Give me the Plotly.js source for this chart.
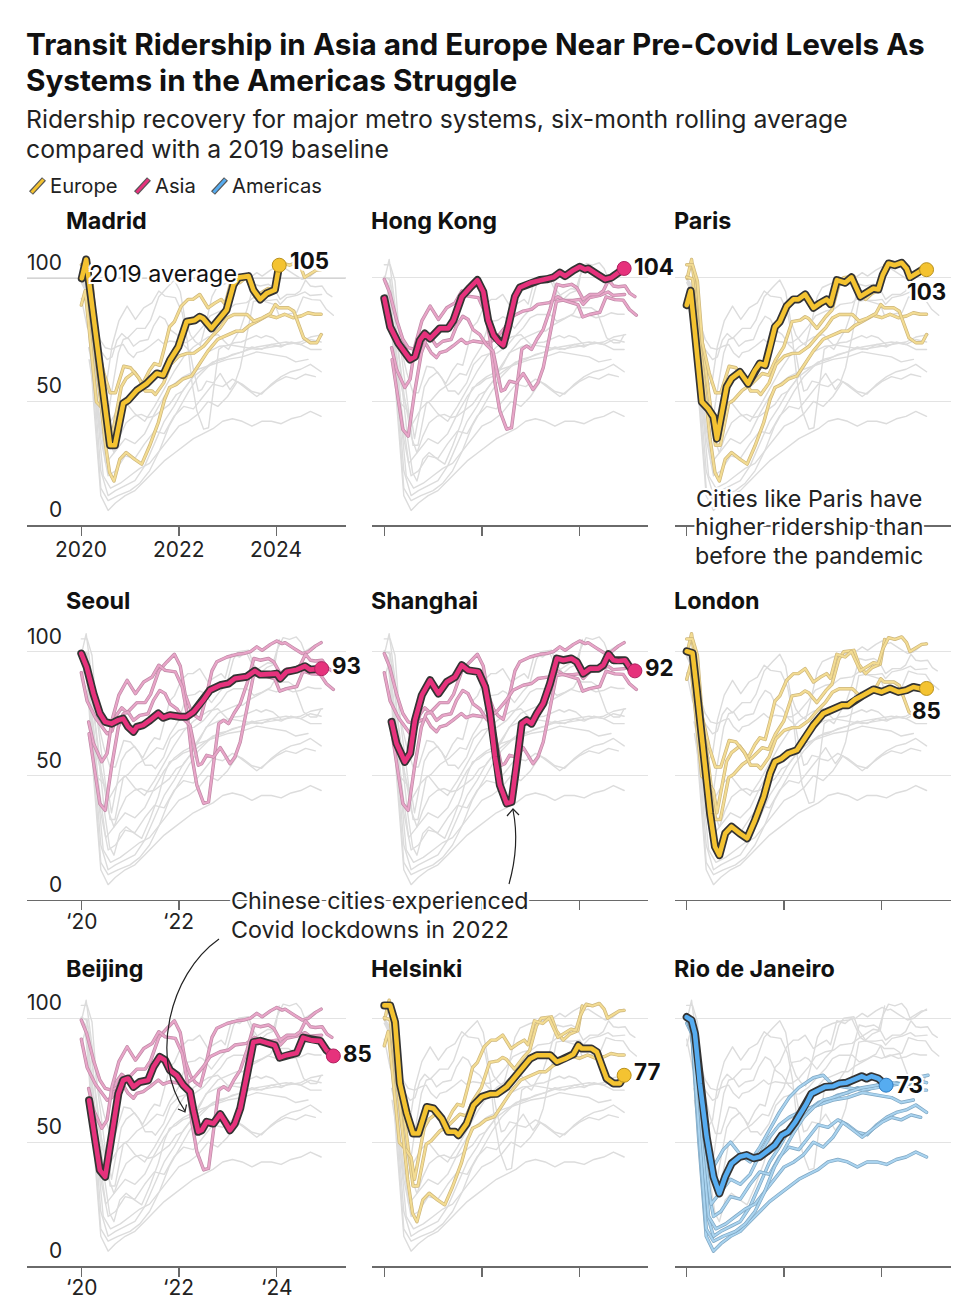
<!DOCTYPE html>
<html><head><meta charset="utf-8">
<script src="https://cdn.plot.ly/plotly-3.0.1.min.js"></script>
<style>html,body{margin:0;padding:0;background:#fff}.scatterlayer path.js-line{stroke-linejoin:round;stroke-linecap:round}</style>
</head><body><div id="chart" style="width:968px;height:1312px"></div>
<script>
// ---------------- DATA (index vs 2019 average = 100; x = decimal year) ----------------
const madridYears = [2020.01,2020.10,2020.59,2020.69,2020.86,2020.96,2021.14,2021.34,2021.55,2021.68,2021.82,2021.99,2022.16,2022.33,2022.43,2022.50,2022.67,2022.85,2022.98,2023.12,2023.22,2023.43,2023.53,2023.67,2023.80,2023.97,2024.06];
const madridValues = [99.7,107.3,32.3,32.3,49.2,50.5,54.5,57.2,61.3,60.6,66.7,72,82.2,82.8,84.2,83.5,79.5,84.2,86.9,97,100,100.6,95,91.2,93.6,95,105];

const hongKongYears = [2020.0,2020.12,2020.29,2020.42,2020.53,2020.63,2020.73,2020.83,2020.94,2021.14,2021.31,2021.42,2021.59,2021.76,2021.91,2022.03,2022.13,2022.24,2022.34,2022.44,2022.54,2022.68,2022.78,2022.99,2023.19,2023.33,2023.47,2023.6,2023.71,2023.88,2024.01,2024.12,2024.18,2024.36,2024.53,2024.66,2024.8,2024.92];
const hongKongValues = [91.6,80.1,73.4,70,66.9,68,74.7,77.4,75.4,79.5,79.5,82.8,92.3,96,99,94.3,82.8,76.8,74.1,72.7,80.1,92.3,96,97.9,99,99.3,100.1,102,100.6,103,104.4,103.3,103.7,101.4,99.3,100,102.3,103.7];

const parisYears = [2020.0,2020.08,2020.17,2020.31,2020.44,2020.55,2020.62,2020.72,2020.82,2020.92,2021.09,2021.26,2021.4,2021.5,2021.61,2021.71,2021.81,2021.91,2022.05,2022.19,2022.29,2022.43,2022.6,2022.73,2022.87,2022.95,2023.08,2023.25,2023.38,2023.56,2023.69,2023.83,2023.93,2024.02,2024.14,2024.27,2024.41,2024.51,2024.58,2024.71,2024.82,2024.92];
const parisValues = [88.9,94.7,77.4,49.8,47.1,43.8,35,45.1,55.9,59.3,61.9,57.2,62.6,65.3,64.6,72,80.1,82.2,88.5,91.2,91.2,93.2,87.8,89.6,91.2,89.3,99,97.9,100.1,92.3,93.9,95.6,95.2,101,105.7,105,106,103.7,100.1,101.7,103,103.2];

const seoulYears = [2020.0,2020.11,2020.25,2020.38,2020.49,2020.62,2020.76,2020.86,2020.96,2021.07,2021.14,2021.27,2021.41,2021.58,2021.68,2021.82,2022.02,2022.16,2022.3,2022.5,2022.64,2022.85,2023.02,2023.15,2023.39,2023.56,2023.67,2023.87,2024.01,2024.08,2024.21,2024.42,2024.59,2024.69,2024.93];
const seoulValues = [99.3,93.9,83.1,75.1,71.7,71,72.4,73,69.7,67.7,69.7,70.4,72.4,75.1,73.4,74.4,73.8,73.8,75.7,80.4,84.5,86.5,87.2,89.2,89.9,92.3,90.8,90.8,91.2,89.2,91.9,92.8,94.2,92.8,93.2];

const shanghaiYears = [2020.15,2020.25,2020.42,2020.53,2020.63,2020.77,2020.94,2021.11,2021.28,2021.45,2021.59,2021.72,2021.93,2022.07,2022.17,2022.27,2022.37,2022.51,2022.61,2022.71,2022.82,2022.92,2023.02,2023.13,2023.26,2023.4,2023.54,2023.67,2023.84,2023.95,2024.08,2024.22,2024.39,2024.49,2024.6,2024.7,2024.8,2024.94,2025.04,2025.14];
const shanghaiValues = [71.7,63,55.6,59,72.4,82.5,88.5,83.1,87.8,89.8,94.6,92.5,91.9,85.8,75.1,57.6,46.2,38.8,39.4,53.6,71,72.4,71,75.1,79.1,87.2,97.3,96.6,97.3,95.9,91.2,93.2,93.2,94.6,99,96.6,96.3,96.6,93.6,92.3];

const londonYears = [2020.0,2020.12,2020.2,2020.34,2020.48,2020.58,2020.67,2020.79,2020.92,2021.09,2021.24,2021.4,2021.58,2021.71,2021.81,2021.95,2022.08,2022.26,2022.39,2022.6,2022.8,2023.01,2023.18,2023.31,2023.45,2023.62,2023.83,2024.0,2024.17,2024.34,2024.51,2024.65,2024.79,2024.92];
const londonValues = [100.2,99.5,85.8,59,34.8,21.3,17.9,26.7,29.4,26.7,24.7,32,41.5,50.9,55.6,56.9,59,60.3,64.3,70.4,75.1,77.1,78.4,78.4,80.7,82.5,84.8,83.8,85.2,83.8,84.5,85.8,85.2,85.2];

const beijingYears = [2020.16,2020.28,2020.38,2020.49,2020.62,2020.76,2020.86,2020.96,2021.07,2021.2,2021.37,2021.48,2021.61,2021.72,2021.82,2021.96,2022.09,2022.23,2022.3,2022.4,2022.47,2022.57,2022.71,2022.85,2022.95,2023.05,2023.15,2023.26,2023.39,2023.53,2023.67,2023.84,2023.97,2024.07,2024.21,2024.42,2024.55,2024.73,2024.9,2025.03,2025.17];
const beijingValues = [66.9,50.8,38.7,36,53.5,69.6,75,75.7,72.3,74.3,75,80.4,84.4,83.1,79,77,73,70.3,62.9,54.2,54.8,58.2,57.5,61.3,58.2,54.8,57.5,63.6,76.3,90.4,90.9,89.8,89.1,84.1,85.1,86,92.2,91.1,90.9,87.1,84.8];

const helsinkiYears = [2020.0,2020.12,2020.22,2020.32,2020.46,2020.59,2020.7,2020.87,2021.01,2021.18,2021.31,2021.45,2021.52,2021.69,2021.83,2022.0,2022.17,2022.31,2022.51,2022.68,2022.85,2022.99,2023.13,2023.4,2023.54,2023.71,2023.88,2023.98,2024.05,2024.25,2024.36,2024.46,2024.56,2024.7,2024.83,2024.92];
const helsinkiValues = [105.2,105.2,98.5,73.7,61.6,53.5,53.5,64.2,63.6,59.5,54.2,54.2,52.8,57.5,64.9,68.3,69.4,69.5,72.3,76.3,79.7,83.7,85.1,85.1,82.4,83.7,85.5,89.1,87.8,87.8,86.4,81,75.7,73.7,73.7,77];

const rioYears = [2020.0,2020.1,2020.17,2020.27,2020.41,2020.55,2020.67,2020.79,2020.92,2021.09,2021.23,2021.37,2021.5,2021.64,2021.81,2021.95,2022.08,2022.23,2022.36,2022.46,2022.56,2022.7,2022.84,2023.01,2023.14,2023.28,2023.42,2023.59,2023.69,2023.79,2023.93,2024.09];
const rioValues = [100.5,99.2,93.8,73.7,52.1,36,29.3,36,41.4,44.1,44.8,43.5,44.1,46.1,48.8,52.8,54.2,58.2,62.2,65.6,69.6,71,72.3,72.6,73.7,74,75.3,76.6,75.7,76.6,75.7,73];

// other Americas systems (unlabelled background lines in the original)
const americasAYears = [2020.0,2020.1,2020.25,2020.4,2020.55,2020.7,2020.9,2021.1,2021.3,2021.5,2021.7,2021.9,2022.1,2022.3,2022.5,2022.7,2022.9,2023.1,2023.3,2023.5,2023.7,2023.9,2024.1,2024.3,2024.5,2024.7,2024.92];
const americasAValues = [100,96,60,22,12,14,16,18,24,33,42,48,55,60,63,66,67,69,70,72,71,73,72,74,73,71,71];
const americasBYears = [2020.0,2020.1,2020.25,2020.4,2020.55,2020.7,2020.9,2021.1,2021.3,2021.5,2021.7,2021.9,2022.1,2022.3,2022.5,2022.7,2022.9,2023.1,2023.3,2023.5,2023.7,2023.9,2024.1,2024.3,2024.5,2024.7,2024.92];
const americasBValues = [100,95,50,12,6,9,12,14,18,22,26,29,32,35,37,39,42,43,42,40,42,42,41,43,44,46,44];
const americasCYears = [2020.0,2020.1,2020.25,2020.4,2020.55,2020.7,2020.9,2021.1,2021.3,2021.5,2021.7,2021.9,2022.1,2022.3,2022.5,2022.7,2022.9,2023.1,2023.3,2023.5,2023.7,2023.9,2024.1,2024.3,2024.5,2024.7,2024.92];
const americasCValues = [100,97,70,35,20,22,28,27,33,38,37,44,48,47,52,57,56,59,57,54,53,57,60,62,63,65,62];
const americasDYears = [2020.0,2020.1,2020.3,2020.55,2020.75,2020.9,2021.1,2021.3,2021.5,2021.7,2021.9,2022.1,2022.3,2022.6,2022.8,2023.0,2023.3,2023.6,2023.9,2024.2,2024.5,2024.7,2024.95];
const americasDValues = [98,94,60,40,47,50,45,42,48,55,62,68,72,76,77,73,72,71,72,73,74,76,77];
const americasEYears = [2020.0,2020.1,2020.3,2020.5,2020.7,2020.9,2021.1,2021.3,2021.5,2021.7,2021.9,2022.1,2022.4,2022.7,2023.0,2023.3,2023.6,2023.9,2024.2,2024.4,2024.65];
const americasEValues = [100,94,55,25,30,35,33,37,45,52,57,60,63,65,67,68,70,69,68,66,67];
const americasFYears = [2020.0,2020.1,2020.3,2020.45,2020.6,2020.8,2021.0,2021.2,2021.4,2021.6,2021.8,2022.0,2022.2,2022.4,2022.6,2022.8,2023.0,2023.2,2023.4,2023.6,2023.8,2024.0,2024.2,2024.4,2024.6,2024.8];
const americasFValues = [100,95,52,20,15,17,20,23,25,30,35,40,42,45,50,48,52,58,55,52,55,58,60,59,61,60];
const americasGYears = [2020.0,2020.1,2020.25,2020.4,2020.55,2020.75,2021.0,2021.2,2021.4,2021.6,2021.8,2022.0,2022.2,2022.4,2022.6,2022.8,2023.0,2023.3,2023.6,2023.9,2024.2,2024.5,2024.7,2024.92];
const americasGValues = [100,96,55,15,10,12,14,17,22,30,40,47,54,60,64,67,68,70,72,73,74,73,75,74];

const panelCities = ['Madrid','Hong Kong','Paris','Seoul','Shanghai','London','Beijing','Helsinki','Rio de Janeiro'];
const regionNames = ['Europe','Asia','Americas'];
const xTickVals = [2020,2022,2024];
const xTickLabelsRow1 = ['2020','2022','2024'];
const xTickLabelsRow2 = ['\u201820','\u201822',''];
const xTickLabelsRow3 = ['\u201820','\u201822','\u201824'];
const yTickVals = [0,50,100];

const cities = [
  {name:'Madrid', region:'Europe', x:madridYears, y:madridValues},
  {name:'Paris', region:'Europe', x:parisYears, y:parisValues},
  {name:'London', region:'Europe', x:londonYears, y:londonValues},
  {name:'Helsinki', region:'Europe', x:helsinkiYears, y:helsinkiValues},
  {name:'Hong Kong', region:'Asia', x:hongKongYears, y:hongKongValues},
  {name:'Seoul', region:'Asia', x:seoulYears, y:seoulValues},
  {name:'Shanghai', region:'Asia', x:shanghaiYears, y:shanghaiValues},
  {name:'Beijing', region:'Asia', x:beijingYears, y:beijingValues},
  {name:'Rio de Janeiro', region:'Americas', x:rioYears, y:rioValues},
  {name:'Americas A', region:'Americas', x:americasAYears, y:americasAValues},
  {name:'Americas B', region:'Americas', x:americasBYears, y:americasBValues},
  {name:'Americas C', region:'Americas', x:americasCYears, y:americasCValues},
  {name:'Americas D', region:'Americas', x:americasDYears, y:americasDValues},
  {name:'Americas E', region:'Americas', x:americasEYears, y:americasEValues},
  {name:'Americas F', region:'Americas', x:americasFYears, y:americasFValues},
  {name:'Americas G', region:'Americas', x:americasGYears, y:americasGValues}
];

// ---------------- STYLE / LAYOUT ----------------
const W = 968, H = 1312;
const FONT = 'Inter, "Liberation Sans", Arial, sans-serif';
const colors = {
  Europe:   {main:'#f4c331', light:'#f3dc93', lightEdge:'#cdb67c', dotEdge:'#b8901c'},
  Asia:     {main:'#e6327c', light:'#e8a5c8', lightEdge:'#bf8aa6', dotEdge:'#b02160'},
  Americas: {main:'#56acf0', light:'#a9d3ef', lightEdge:'#7ea6c2', dotEdge:'#2f7cc0'}
};
const GREY = '#dcdcdc';
const colPx = [[27,345.7],[372,648],[675,951]];
const colYear0Px = [81.3,384.3,686.7];
const pxPerYear = 48.75;
const rowZeroPx = [525.3,899.5,1266];
const xLabelY = [549,921,1287];
const pxPerUnit = 2.477;
const yMax = 110;
const LEFT_FIX = 3; // annotation padding compensation for left-anchored texts

const ctx = document.createElement('canvas').getContext('2d');
function fit(text, weight, target){ ctx.font = weight + ' 100px Inter'; return 100*target/ctx.measureText(text).width; }
const px = v => v / W, py = v => 1 - v / H;

const titleSize = fit('Transit Ridership in Asia and Europe Near Pre-Covid Levels As','bold',899);
const subSize = fit('Ridership recovery for major metro systems, six-month rolling average','normal',822);
const panelTitleSize = fit('Hong Kong','bold',126);
const tickSize = fit('2020','normal',52);
const noteSize = fit('Covid lockdowns in 2022','normal',278);
const legendSize = fit('Americas','normal',90);
const endSize = fit('105','bold',39);

const HALO = '-2px -2px 0 #fff, 2px -2px 0 #fff, -2px 2px 0 #fff, 2px 2px 0 #fff, 0 -2px 0 #fff, 0 2px 0 #fff, -2px 0 0 #fff, 2px 0 0 #fff, -1px -1px 0 #fff, 1px 1px 0 #fff';

const layout = {
  width:W, height:H, margin:{l:0,r:0,t:0,b:0},
  paper_bgcolor:'#ffffff', plot_bgcolor:'rgba(0,0,0,0)', showlegend:false,
  font:{family:FONT, color:'#222'},
  annotations:[], shapes:[]
};
const traces = [];

function addText(text, x, y, size, opts){
  const o = Object.assign({xanchor:'left'}, opts || {});
  const xx = o.xanchor === 'left' ? x - LEFT_FIX : x;
  layout.annotations.push(Object.assign({
    text:text, x:px(xx), y:py(y), xref:'paper', yref:'paper', showarrow:false,
    yanchor:'middle', font:{family:FONT, size:size, color:'#111'}
  }, o));
}

// titles
addText('<b>Transit Ridership in Asia and Europe Near Pre-Covid Levels As</b>', 27, 44, titleSize);
addText('<b>Systems in the Americas Struggle</b>', 27, 80, titleSize);
addText('Ridership recovery for major metro systems, six-month rolling average', 27, 119, subSize, {font:{family:FONT,size:subSize,color:'#222'}});
addText('compared with a 2019 baseline', 27, 149, subSize, {font:{family:FONT,size:subSize,color:'#222'}});

// legend
const legendPos = [{sx:31, tx:51},{sx:136, tx:156},{sx:213, tx:233}];
regionNames.forEach((r,k)=>{
  const p = legendPos[k];
  layout.shapes.push({type:'line', xref:'paper', yref:'paper', x0:px(p.sx), y0:py(193), x1:px(p.sx+13), y1:py(179), line:{color:'#555', width:5.5}});
  layout.shapes.push({type:'line', xref:'paper', yref:'paper', x0:px(p.sx+0.6), y0:py(192.4), x1:px(p.sx+12.4), y1:py(179.6), line:{color:colors[r].main, width:3}});
  addText(r, p.tx, 186, legendSize, {font:{family:FONT,size:legendSize,color:'#222'}});
});

const panelTitleY = [220,600,968];
const endLabelPos = {
  'Madrid':{xanchor:'left', yanchor:'middle', xshift:9, yshift:5},
  'Hong Kong':{xanchor:'left', yanchor:'middle', xshift:8, yshift:2},
  'Paris':{xanchor:'center', yanchor:'top', xshift:0, yshift:-6},
  'Seoul':{xanchor:'left', yanchor:'middle', xshift:8, yshift:3},
  'Shanghai':{xanchor:'left', yanchor:'middle', xshift:8, yshift:3},
  'London':{xanchor:'center', yanchor:'top', xshift:0, yshift:-7},
  'Beijing':{xanchor:'left', yanchor:'middle', xshift:8, yshift:2},
  'Helsinki':{xanchor:'left', yanchor:'middle', xshift:8, yshift:4},
  'Rio de Janeiro':{xanchor:'left', yanchor:'middle', xshift:8, yshift:1}
};

panelCities.forEach((cityName, i)=>{
  const r = Math.floor(i/3), c = i%3, n = i+1, sfx = n===1 ? '' : String(n);
  const xa = 'x'+sfx, ya = 'y'+sfx;
  const xr = [2020 + (colPx[c][0]-colYear0Px[c])/pxPerYear, 2020 + (colPx[c][1]-colYear0Px[c])/pxPerYear];
  const yTop = rowZeroPx[r] - yMax*pxPerUnit;
  layout['xaxis'+sfx] = {
    domain:[px(colPx[c][0]), px(colPx[c][1])], range:xr, anchor:ya,
    showgrid:false, zeroline:false, showline:true, linecolor:'#6a6a6a', linewidth:1.5,
    ticks:'outside', ticklen:9, tickwidth:1.5, tickcolor:'#6a6a6a',
    tickmode:'array', tickvals:xTickVals, showticklabels:false, fixedrange:true
  };
  layout['yaxis'+sfx] = {
    domain:[py(rowZeroPx[r]), py(yTop)], range:[0,yMax], anchor:xa,
    showgrid:true, gridcolor:'#e3e3e3', gridwidth:1, tickmode:'array', tickvals:[50,100],
    showticklabels:false, ticks:'', zeroline:false, showline:false, fixedrange:true
  };
  // panel title
  addText('<b>'+cityName+'</b>', c===0 ? 67 : colPx[c][0], panelTitleY[r], panelTitleSize);
  // axis labels for first column
  if (c===0){
    yTickVals.forEach(v=>{
      layout.annotations.push({text:String(v), xref:'paper', yref:ya, x:px(64), y:v, xanchor:'right', yanchor:'bottom', yshift:1, showarrow:false, font:{family:FONT,size:tickSize,color:'#222'}});
    });
    const tt = [xTickLabelsRow1, xTickLabelsRow2, xTickLabelsRow3][r];
    xTickVals.forEach((v,k)=>{
      if (!tt[k]) return;
      layout.annotations.push({text:tt[k], xref:xa, yref:ya, x:v, y:0, xanchor:'center', yanchor:'middle', yshift:-(xLabelY[r]-rowZeroPx[r]), showarrow:false, font:{family:FONT,size:tickSize,color:'#222'}});
    });
  }
  const hl = cities.find(d=>d.name===cityName);
  const col = colors[hl.region];
  // grey background
  cities.filter(d=>d.region!==hl.region).forEach(d=>{
    traces.push({x:d.x, y:d.y, xaxis:xa, yaxis:ya, type:'scatter', mode:'lines', line:{color:GREY, width:1.4}, hoverinfo:'skip'});
  });
  // same-region lines
  cities.filter(d=>d.region===hl.region && d.name!==cityName).forEach(d=>{
    traces.push({x:d.x, y:d.y, xaxis:xa, yaxis:ya, type:'scatter', mode:'lines', line:{color:colors[d.region].lightEdge, width:3.4}, hoverinfo:'skip'});
    traces.push({x:d.x, y:d.y, xaxis:xa, yaxis:ya, type:'scatter', mode:'lines', line:{color:colors[d.region].light, width:2}, hoverinfo:'skip'});
  });
  // highlight
  traces.push({x:hl.x, y:hl.y, xaxis:xa, yaxis:ya, type:'scatter', mode:'lines', line:{color:'#333', width:8}, hoverinfo:'skip'});
  traces.push({x:hl.x, y:hl.y, xaxis:xa, yaxis:ya, type:'scatter', mode:'lines', line:{color:col.main, width:4.6}, hoverinfo:'skip'});
  const lx = hl.x[hl.x.length-1], lv = hl.y[hl.y.length-1];
  traces.push({x:[lx], y:[lv], xaxis:xa, yaxis:ya, type:'scatter', mode:'markers', marker:{size:14, color:col.main, line:{color:col.dotEdge, width:1}}, hoverinfo:'skip', cliponaxis:false});
  const lp = endLabelPos[cityName];
  layout.annotations.push({text:'<b>'+Math.round(lv)+'</b>', xref:xa, yref:ya, x:lx, y:lv, xanchor:lp.xanchor, yanchor:lp.yanchor, xshift:lp.xshift, yshift:lp.yshift, showarrow:false, font:{family:FONT, size:endSize, color:'#111', shadow:HALO}});
  if (cityName==='Madrid'){
    layout.shapes.push({type:'line', xref:'paper', yref:ya, x0:px(colPx[0][0]), x1:px(colPx[0][1]), y0:100, y1:100, layer:'below', line:{color:'#555', width:1.4}});
    layout.annotations.push({text:'2019 average', xref:'paper', yref:ya, x:px(163), y:100, xanchor:'center', yanchor:'middle', yshift:4, showarrow:false, font:{family:FONT, size:noteSize, color:'#111', shadow:HALO}});
  }
});

// notes
const noteFont = {family:FONT, size:noteSize, color:'#222', shadow:HALO};
['Cities like Paris have','higher ridership than','before the pandemic'].forEach((t,k)=>{
  addText(t, 809, [498,526,555][k], noteSize, {xanchor:'center', font:noteFont});
});
['Chinese cities experienced','Covid lockdowns in 2022'].forEach((t,k)=>{
  addText(t, 232, [900,929][k], noteSize, {font:noteFont});
});
// arrows
function P(x,y){ return px(x).toFixed(5)+','+py(y).toFixed(5); }
const arrowLine = {color:'#222', width:1.2};
layout.shapes.push({type:'path', xref:'paper', yref:'paper', path:'M'+P(509,884)+' Q'+P(520,845)+' '+P(513,810), line:arrowLine});
layout.shapes.push({type:'path', xref:'paper', yref:'paper', path:'M'+P(507,816)+' L'+P(513,809)+' L'+P(519,815), line:arrowLine});
layout.shapes.push({type:'path', xref:'paper', yref:'paper', path:'M'+P(219,939)+' C'+P(168,975)+' '+P(150,1060)+' '+P(185,1111), line:arrowLine});
layout.shapes.push({type:'path', xref:'paper', yref:'paper', path:'M'+P(178,1109)+' L'+P(185,1112)+' L'+P(186.5,1104.5), line:arrowLine});

Plotly.newPlot('chart', traces, layout, {staticPlot:true, displayModeBar:false});
</script>
</body></html>
